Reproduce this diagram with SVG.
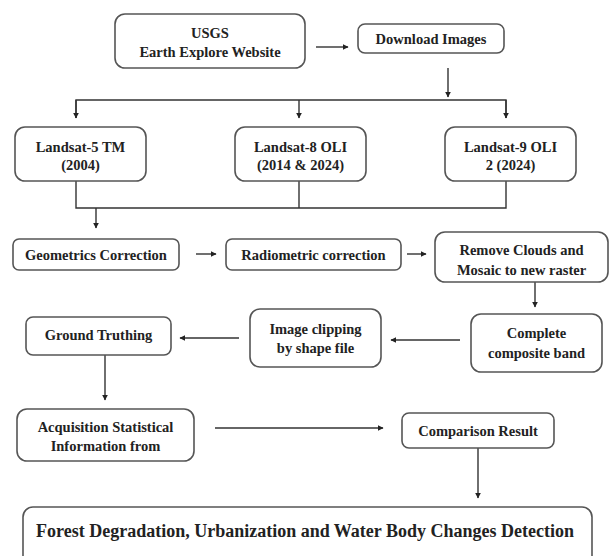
<svg xmlns="http://www.w3.org/2000/svg" width="610" height="556" viewBox="0 0 610 556">
<style>
.box{fill:#fff;stroke:#555;stroke-width:1.6}
.t{font-family:'Liberation Serif','DejaVu Serif','Times New Roman',serif;font-weight:700;font-size:14.5px;fill:#222;text-anchor:middle;dominant-baseline:central}
.big{font-size:18px}
.c{stroke:#333;stroke-width:1.4;fill:none}
.a{marker-end:url(#ah)}
</style>
<defs>
<marker id="ah" viewBox="0 0 10 10" refX="9" refY="5" markerWidth="6" markerHeight="6" markerUnits="userSpaceOnUse" orient="auto">
<path d="M0,0 L10,5 L0,10 z" fill="#222"/>
</marker>
</defs>
<rect width="610" height="556" fill="#fff"/>
<g id="connectors">
<line class="c a" x1="316" y1="47" x2="348" y2="47"/>
<line class="c a" x1="448" y1="68" x2="448" y2="97"/>
<polyline class="c" points="76,118 76,100 506,100 506,118"/>
<line class="c a" x1="76" y1="100" x2="76" y2="118"/>
<line class="c a" x1="299" y1="100" x2="299" y2="118"/>
<line class="c a" x1="506" y1="100" x2="506" y2="118"/>
<polyline class="c" points="76,181 76,208 506,208 506,181"/>
<line class="c" x1="299" y1="181" x2="299" y2="208"/>
<line class="c a" x1="96" y1="208" x2="96" y2="228"/>
<line class="c a" x1="196" y1="254" x2="216" y2="254"/>
<line class="c a" x1="407" y1="254" x2="426" y2="254"/>
<line class="c a" x1="535" y1="282" x2="535" y2="307"/>
<line class="c a" x1="460" y1="340" x2="391" y2="340"/>
<line class="c a" x1="239" y1="338" x2="180" y2="338"/>
<line class="c a" x1="105" y1="355" x2="105" y2="400"/>
<line class="c a" x1="215" y1="428" x2="383" y2="428"/>
<line class="c a" x1="478" y1="448" x2="478" y2="498"/>
</g>
<g id="usgs">
<rect class="box" x="115" y="14" width="190" height="54" rx="10"/>
<text class="t" x="210" y="33">USGS</text>
<text class="t" x="210" y="52">Earth Explore Website</text>
</g>
<g id="download">
<rect class="box" x="358" y="24" width="146" height="29" rx="7"/>
<text class="t" x="431" y="39">Download Images</text>
</g>
<g id="landsat5">
<rect class="box" x="15" y="127" width="131" height="54" rx="10"/>
<text class="t" x="80.5" y="147">Landsat-5 TM</text>
<text class="t" x="80.5" y="165">(2004)</text>
</g>
<g id="landsat8">
<rect class="box" x="235" y="127" width="131" height="54" rx="10"/>
<text class="t" x="300.5" y="147">Landsat-8 OLI</text>
<text class="t" x="300.5" y="165">(2014 &amp; 2024)</text>
</g>
<g id="landsat9">
<rect class="box" x="445" y="127" width="131" height="54" rx="10"/>
<text class="t" x="510.5" y="147">Landsat-9 OLI</text>
<text class="t" x="510.5" y="165">2 (2024)</text>
</g>
<g id="geometrics">
<rect class="box" x="13" y="239" width="166" height="31" rx="6"/>
<text class="t" x="96" y="255">Geometrics Correction</text>
</g>
<g id="radiometric">
<rect class="box" x="226" y="239" width="175" height="31" rx="6"/>
<text class="t" x="313.5" y="255">Radiometric correction</text>
</g>
<g id="remove-clouds">
<rect class="box" x="435" y="232" width="173" height="50" rx="10"/>
<text class="t" x="521.5" y="250">Remove Clouds and</text>
<text class="t" x="521.5" y="270">Mosaic to new raster</text>
</g>
<g id="composite">
<rect class="box" x="471" y="314" width="131" height="58" rx="10"/>
<text class="t" x="536.5" y="333">Complete</text>
<text class="t" x="536.5" y="353">composite band</text>
</g>
<g id="clipping">
<rect class="box" x="250" y="309" width="131" height="58" rx="10"/>
<text class="t" x="315.5" y="329">Image clipping</text>
<text class="t" x="315.5" y="348">by shape file</text>
</g>
<g id="ground-truthing">
<rect class="box" x="26" y="317" width="145" height="38" rx="7"/>
<text class="t" x="98.5" y="335">Ground Truthing</text>
</g>
<g id="acquisition">
<rect class="box" x="17" y="409" width="177" height="52" rx="10"/>
<text class="t" x="105.5" y="427">Acquisition Statistical</text>
<text class="t" x="105.5" y="446">Information from</text>
</g>
<g id="comparison">
<rect class="box" x="402" y="413" width="152" height="35" rx="7"/>
<text class="t" x="478" y="431">Comparison Result</text>
</g>
<g id="result">
<rect class="box" x="23" y="507" width="569" height="60" rx="10"/>
<text class="t big" x="305" y="531">Forest Degradation, Urbanization and Water Body Changes Detection</text>
</g>
</svg>
